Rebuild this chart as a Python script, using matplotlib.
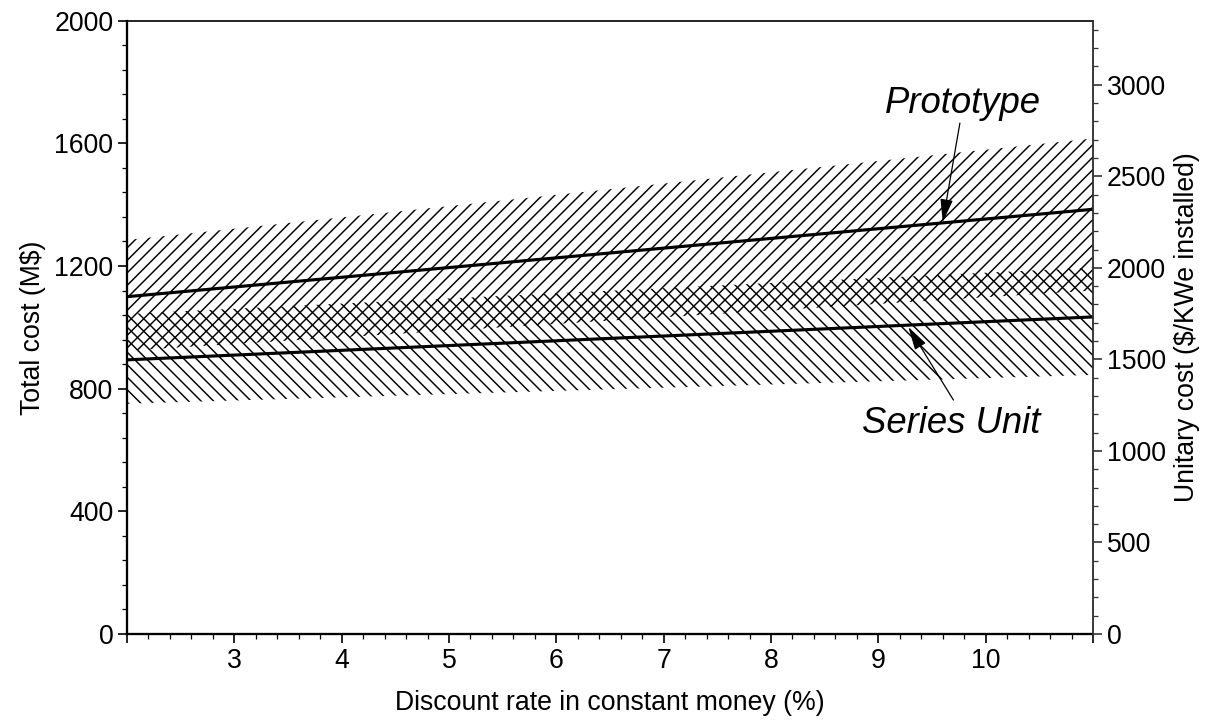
import numpy as np
import matplotlib
matplotlib.use('Agg')
import matplotlib.pyplot as plt
from matplotlib.ticker import MultipleLocator

plt.rcParams['font.family'] = ['Liberation Sans', 'DejaVu Sans']
plt.rcParams['hatch.linewidth'] = 0.7

# Discount rate (%) at the two ends of the plotted range
RATE = [2, 11]

# Prototype: cost band and central line (M$)
PROTO_LOW = [924, 1120]
PROTO_HIGH = [1285, 1616]
PROTO_LINE = [1100, 1385]

# Series unit: cost band and central line (M$)
SERIES_LOW = [751, 845]
SERIES_HIGH = [1044, 1195]
SERIES_LINE = [894, 1034]

X_TICKS = [2, 3, 4, 5, 6, 7, 8, 9, 10, 11]
X_LABELS = ['', '3', '4', '5', '6', '7', '8', '9', '10', '']
LEFT_TICKS = [0, 400, 800, 1200, 1600, 2000]
RIGHT_TICKS = [0, 500, 1000, 1500, 2000, 2500, 3000]
RIGHT_MAX = 3350

TICK_FS = 12.8
NOTE_FS = 17.5

fig = plt.figure(figsize=(8.08, 4.8267), dpi=150)
ax = fig.add_axes([0.1048, 0.1243, 0.7970, 0.8471])

ax.fill_between(RATE, PROTO_LOW, PROTO_HIGH, facecolor='none',
                edgecolor='black', linewidth=0, hatch='////')
ax.fill_between(RATE, SERIES_LOW, SERIES_HIGH, facecolor='none',
                edgecolor='black', linewidth=0, hatch='\\\\\\\\')
ax.plot(RATE, PROTO_LINE, color='black', lw=1.5)
ax.plot(RATE, SERIES_LINE, color='black', lw=1.5)

arrow = dict(arrowstyle='-|>,head_length=0.95,head_width=0.26',
             mutation_scale=10, color='black', lw=0.6,
             shrinkA=0, shrinkB=0)
ax.annotate('', xy=(9.60, 1343), xytext=(9.76, 1666), arrowprops=arrow)
ax.annotate('', xy=(9.28, 1001), xytext=(9.70, 763), arrowprops=arrow)
ax.text(9.79, 1700, 'Prototype', fontsize=NOTE_FS, style='italic',
        ha='center', va='baseline')
ax.text(9.68, 655, 'Series Unit', fontsize=NOTE_FS, style='italic',
        ha='center', va='baseline')

ax.set_xlim(2, 11)
ax.set_ylim(0, 2000)
ax.set_xticks(X_TICKS)
ax.set_xticklabels(X_LABELS)
ax.xaxis.set_minor_locator(MultipleLocator(0.2))
ax.set_yticks(LEFT_TICKS)
ax.yaxis.set_minor_locator(MultipleLocator(80))
ax.tick_params(which='major', length=4.5, width=0.8, labelsize=TICK_FS, pad=2)
ax.tick_params(which='minor', length=2.2, width=0.6)
ax.tick_params(axis='y', right=False)
ax.spines['left'].set_linewidth(1.1)
ax.spines['bottom'].set_linewidth(1.1)
ax.spines['top'].set_linewidth(0.8)
ax.spines['right'].set_visible(False)

ax.set_xlabel('Discount rate in constant money (%)', fontsize=TICK_FS, labelpad=8)
ax.set_ylabel(r'Total cost (M\$)', fontsize=TICK_FS, labelpad=4)

ax2 = ax.twinx()
ax2.set_ylim(0, RIGHT_MAX)
ax2.set_yticks(RIGHT_TICKS)
ax2.yaxis.set_minor_locator(MultipleLocator(100))
ax2.tick_params(which='major', length=4.5, width=0.8, labelsize=TICK_FS,
                color='#333333', pad=2)
ax2.tick_params(which='minor', length=2.2, width=0.6, color='#333333')
for side in ['left', 'top', 'bottom']:
    ax2.spines[side].set_visible(False)
ax2.spines['right'].set_linewidth(0.9)
ax2.spines['right'].set_color('#333333')
ax2.set_ylabel(r'Unitary cost (\$/KWe installed)', fontsize=TICK_FS, labelpad=4)

fig.savefig('out.png', dpi=150)
